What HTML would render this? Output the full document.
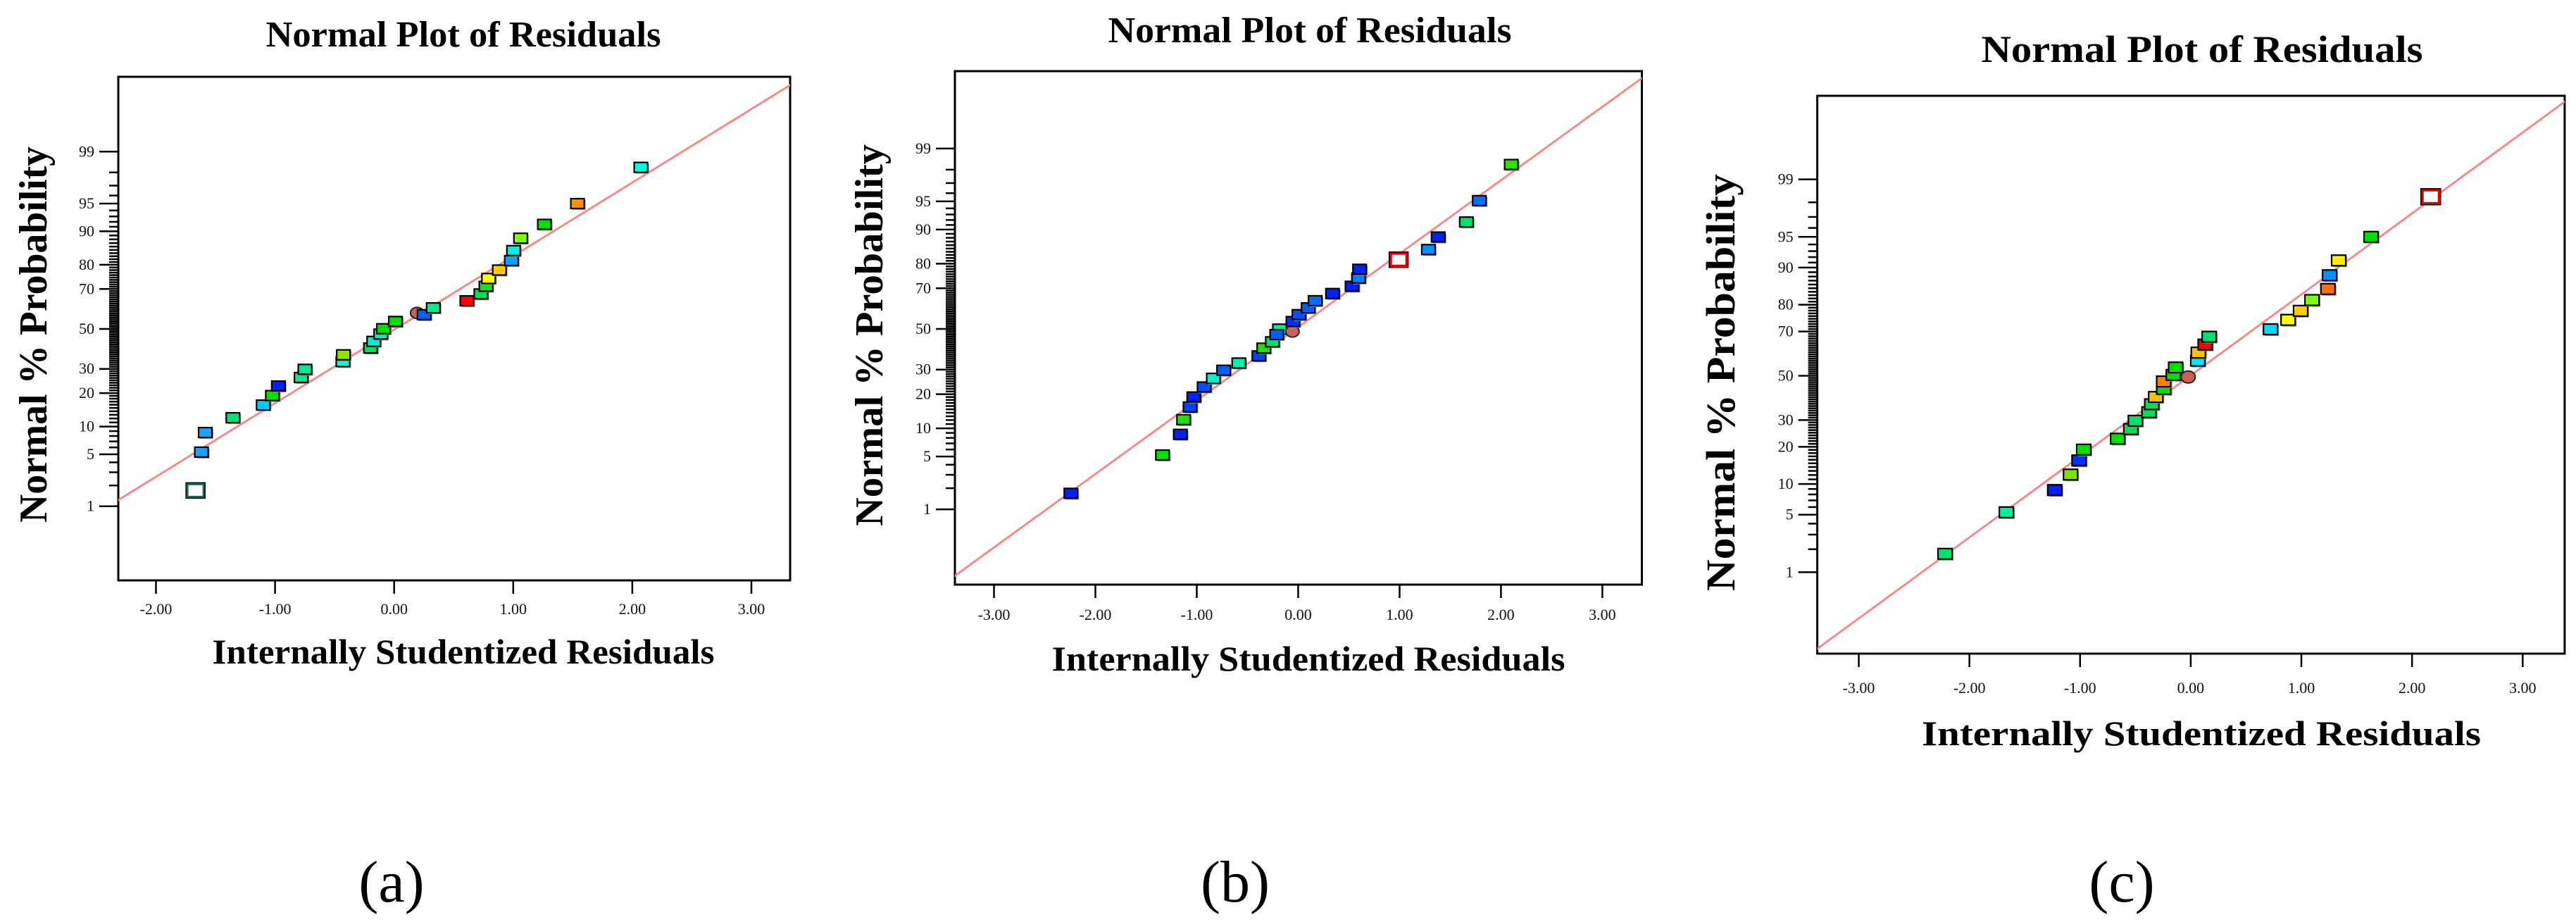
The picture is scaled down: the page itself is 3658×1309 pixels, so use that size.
<!DOCTYPE html>
<html><head><meta charset="utf-8"><style>
html,body{margin:0;padding:0;background:#fff;}
svg{display:block;}
text{font-family:"Liberation Serif",serif;}
</style></head><body>
<svg id="fig" width="3658" height="1309" viewBox="0 0 3658 1309" xmlns="http://www.w3.org/2000/svg">
<text x="556" y="1280" font-size="84" text-anchor="middle">(a)</text>
<text x="1754" y="1280" font-size="84" text-anchor="middle">(b)</text>
<text x="3013" y="1280" font-size="84" text-anchor="middle">(c)</text>
</svg>
<script>
// ---- data ----
const xTickLabelsA = ["-2.00","-1.00","0.00","1.00","2.00","3.00"];
const xTickLabelsBC = ["-3.00","-2.00","-1.00","0.00","1.00","2.00","3.00"];
const yTickLabels = [1,5,10,20,30,50,70,80,90,95,99];
const aResid = [-1.668,-1.618,-1.586,-1.354,-1.099,-1.022,-0.972,-0.781,-0.749,-0.430,-0.426,-0.198,-0.171,-0.112,-0.089,0.011,0.193,0.252,0.329,0.611,0.729,0.771,0.793,0.884,0.985,1.003,1.062,1.262,1.540,2.072];
const aProb = [1.7,5.3,8.7,12.2,15.9,19.1,22.7,26.2,29.8,33.4,36.7,40.1,43.5,47.3,50.1,53.9,58.3,57.4,60.9,64.4,67.7,71.2,74.6,78.0,81.5,84.8,88.3,91.5,95.0,98.3];
const aColors = ["#ffffff","#1ea0ff","#1ea0ff","#00e070","#00c8ff","#00e000","#0020ff","#00e890","#00e890","#00ffd8","#90e000","#00e050","#00f0c8","#00f0c8","#00e000","#00e000","#c86060","#0060ff","#00e890","#ff0000","#00e050","#20e020","#ffff00","#ffcc00","#00a8ff","#00f0e0","#80ff00","#00e000","#ff9000","#00ffe0"];
const aShapes = ["hollow","sq","sq","sq","sq","sq","sq","sq","sq","sq","sq","sq","sq","sq","sq","sq","circle","sq","sq","sq","sq","sq","sq","sq","sq","sq","sq","sq","sq","sq"];
const aLine = [0.965,-0.01];
const bResid = [-2.241,-1.338,-1.162,-1.130,-1.066,-1.029,-0.927,-0.836,-0.735,-0.585,-0.387,-0.339,-0.254,-0.184,-0.211,-0.056,-0.051,0.008,0.099,0.168,0.339,0.532,0.596,0.606,0.991,1.285,1.381,1.659,1.787,2.102];
const bProb = [1.7,5.2,8.7,12.1,15.7,19.0,22.7,26.2,29.7,33.0,36.4,40.2,43.4,49.9,47.1,48.7,53.8,57.3,60.7,64.2,67.6,70.9,74.4,77.9,81.4,84.7,88.2,91.6,95.1,98.3];
const bColors = ["#0020ff","#00e000","#0020ff","#20e000","#0040ff","#0020ff","#0050ff","#00f0d0","#0060ff","#00f0b0","#0040ff","#20e000","#00e070","#00f0a0","#0060ff","#c86060","#0030ff","#0050ff","#0060ff","#0070ff","#0020ff","#0020ff","#0080ff","#0020ff","#ffffff","#0090ff","#0020ff","#00e070","#0070ff","#30e000"];
const bShapes = ["sq","sq","sq","sq","sq","sq","sq","sq","sq","sq","sq","sq","sq","sq","sq","circle","sq","sq","sq","sq","sq","sq","sq","sq","hollowred","sq","sq","sq","sq","sq"];
const bLine = [0.947,0.023];
const cResid = [-2.220,-1.666,-1.229,-1.086,-1.009,-0.967,-0.660,-0.541,-0.500,-0.377,-0.352,-0.316,-0.244,-0.244,-0.157,-0.136,-0.023,0.064,0.069,0.131,0.167,0.721,0.880,0.993,1.096,1.240,1.255,1.337,1.630,2.169];
const cProb = [1.75,5.3,8.8,12.1,15.8,19.1,22.8,26.4,29.7,33.3,36.8,40.1,43.8,47.3,50.4,53.9,49.4,57.1,60.8,64.4,67.8,70.9,74.6,77.9,81.5,84.8,88.3,91.4,95.0,98.3];
const cColors = ["#00e070","#00f0a0","#0020ff","#80e000","#0030ff","#00e000","#00e000","#00e050","#00e070","#00e050","#00e050","#ffc000","#00e000","#ff8000","#00e000","#00e000","#c86060","#00e8ff","#ffc000","#ff0000","#00e070","#00d8ff","#ffff00","#ffcc00","#80ff00","#ff7000","#0090ff","#ffee00","#00e000","#ffffff"];
const cShapes = ["sq","sq","sq","sq","sq","sq","sq","sq","sq","sq","sq","sq","sq","sq","sq","sq","circle","sq","sq","sq","sq","sq","sq","sq","sq","sq","sq","sq","sq","hollowred"];
const cLine = [0.959,0.004];

function probit(p){
  const a=[-39.69683028665376,220.9460984245205,-275.9285104469687,138.3577518672690,-30.66479806614716,2.506628277459239];
  const b=[-54.47609879822406,161.5858368580409,-155.6989798598866,66.80131188771720,-13.28068155288572];
  const c=[-0.007784894002430293,-0.3223964580411365,-2.400758277161838,-2.549732539343734,4.374664141464968,2.938163982698783];
  const d=[0.007784695709041462,0.3224671290700398,2.445134137142996,3.754408661907416];
  const pl=0.02425; let q,r;
  if(p<pl){q=Math.sqrt(-2*Math.log(p));return (((((c[0]*q+c[1])*q+c[2])*q+c[3])*q+c[4])*q+c[5])/((((d[0]*q+d[1])*q+d[2])*q+d[3])*q+1);}
  if(p>1-pl){q=Math.sqrt(-2*Math.log(1-p));return -(((((c[0]*q+c[1])*q+c[2])*q+c[3])*q+c[4])*q+c[5])/((((d[0]*q+d[1])*q+d[2])*q+d[3])*q+1);}
  q=p-0.5;r=q*q;return (((((a[0]*r+a[1])*r+a[2])*r+a[3])*r+a[4])*r+a[5])*q/(((((b[0]*r+b[1])*r+b[2])*r+b[3])*r+b[4])*r+1);
}
const NS="http://www.w3.org/2000/svg";
const svg=document.getElementById('fig');
function mk(tag,attrs,parent){const e=document.createElementNS(NS,tag);for(const k in attrs)e.setAttribute(k,attrs[k]);(parent||svg).appendChild(e);return e;}

function panel(P,id,resid,prob,colors,shapes,line,xlabels){
  const g=mk('g',{});
  
  
  const xs=v=>P.x0+(v-P.xv0)*(P.x1-P.x0)/(P.xv1-P.xv0);
  const ys=z=>P.ymid-z*P.zs;
  const clip=mk('clipPath',{id:'clip'+id},g);
  mk('rect',{x:P.L,y:P.T,width:P.R-P.L,height:P.B-P.T},clip);
  // title
  const t=mk('text',{x:P.tx,y:P.ty,'font-size':P.tfs,'font-weight':'bold','text-anchor':'middle',textLength:P.tw,lengthAdjust:'spacingAndGlyphs'},g);
  t.textContent='Normal Plot of Residuals';
  
  
  // y label
  const yl=mk('text',{x:0,y:0,'font-size':P.yfs,'font-weight':'bold','text-anchor':'middle',textLength:P.yw,lengthAdjust:'spacingAndGlyphs',transform:`translate(${P.yx},${P.yy}) rotate(-90)`},g);
  yl.textContent='Normal % Probability';
  
  
  // x label
  const xl=mk('text',{x:P.xlx,y:P.xly,'font-size':P.xfs,'font-weight':'bold','text-anchor':'middle',textLength:P.xlw,lengthAdjust:'spacingAndGlyphs'},g);
  xl.textContent='Internally Studentized Residuals';
  
  
  // frame
  const fr=mk('rect',{x:P.L,y:P.T,width:P.R-P.L,height:P.B-P.T,fill:'none',stroke:'#000','stroke-width':3},g);
  
  
  // y ticks
  for(let p=1;p<=99;p++){
    const y=ys(probit(p/100));
    const major=yTickLabels.indexOf(p)>=0;
    const tk=mk('line',{x1:major?P.L-27:P.L-13,x2:P.L,y1:y,y2:y,stroke:'#000','stroke-width':2.5},g);
    
    
    if(major){
      const lb=mk('text',{x:P.L-34,y:y+7,'font-size':22,'text-anchor':'end',fill:'#111'},g);
      lb.textContent=String(p);
      
      
    }
  }
  // x ticks
  xlabels.forEach(s=>{
    const v=parseFloat(s),x=xs(v);
    const tk=mk('line',{x1:x,x2:x,y1:P.B,y2:P.B+19,stroke:'#000','stroke-width':2.5},g);
    
    
    const lb=mk('text',{x:x,y:P.xty,'font-size':22,'text-anchor':'middle',fill:'#111'},g);
    lb.textContent=s;
    
    
  });
  // fit line
  const va=P.xv0-0.5,vb=P.xv1+0.5;
  const ln=mk('line',{x1:xs(va),y1:ys(line[0]*va+line[1]),x2:xs(vb),y2:ys(line[0]*vb+line[1]),stroke:'#f58a8a','stroke-width':3,'clip-path':`url(#clip${id})`},g);
  
  
  // points
  resid.forEach((r,i)=>{
    const cx=xs(r),cy=ys(probit(prob[i]/100));
    let m;
    if(shapes[i]==='circle'){
      m=mk('ellipse',{cx:cx,cy:cy,rx:P.mw/2,ry:P.mh/2+1,fill:colors[i],stroke:'#222','stroke-width':2},g);
    } else if(shapes[i]==='hollowred'){
      m=mk('rect',{x:cx-P.mw/2-2,y:cy-P.mh/2-2,width:P.mw+4,height:P.mh+4,fill:'#fff',stroke:'#e00000','stroke-width':4},g);
      mk('rect',{x:cx-P.mw/2-4,y:cy-P.mh/2-4,width:P.mw+8,height:P.mh+8,fill:'none',stroke:'#000','stroke-width':1.5},g);
    } else if(shapes[i]==='hollow'){
      m=mk('rect',{x:cx-P.mw/2-2,y:cy-P.mh/2-2,width:P.mw+4,height:P.mh+4,fill:'#fff',stroke:'#1a6a5a','stroke-width':3},g);
      mk('rect',{x:cx-P.mw/2-4,y:cy-P.mh/2-4,width:P.mw+8,height:P.mh+8,fill:'none',stroke:'#000','stroke-width':1.5},g);
    } else {
      mk('rect',{x:cx-P.mw/2+2,y:cy-P.mh/2+2,width:P.mw,height:P.mh,fill:'#999'},g);
      m=mk('rect',{x:cx-P.mw/2,y:cy-P.mh/2,width:P.mw,height:P.mh,fill:colors[i],stroke:'#000','stroke-width':2.2},g);
    }
    
    
  });
}

panel({L:168,R:1122,T:109,B:824,x0:221.5,x1:1067,xv0:-2,xv1:3,ymid:467,zs:108.2,
  tx:658,ty:66,tfs:52,tw:561,yx:66,yy:475,yfs:56,yw:534,xlx:658,xly:942,xfs:50,xlw:713,xty:872,mw:19,mh:14},
  'a',aResid,aProb,aColors,aShapes,aLine,xTickLabelsA);
panel({L:1356,R:2331.5,T:101,B:830,x0:1411.5,x1:2275.4,xv0:-3,xv1:3,ymid:467,zs:110.1,
  tx:1860,ty:60,tfs:52,tw:573,yx:1253,yy:476,yfs:56,yw:542,xlx:1858,xly:952,xfs:50,xlw:729,xty:880,mw:19,mh:14},
  'b',bResid,bProb,bColors,bShapes,bLine,xTickLabelsBC);
panel({L:2580.6,R:3641.9,T:136,B:928,x0:2639.5,x1:3582.3,xv0:-3,xv1:3,ymid:533.5,zs:119.9,
  tx:3127,ty:88,tfs:54,tw:627,yx:2463,yy:543,yfs:58,yw:592,xlx:3126,xly:1058,xfs:50,xlw:794,xty:984,mw:20,mh:15},
  'c',cResid,cProb,cColors,cShapes,cLine,xTickLabelsBC);
</script>
</body></html>
